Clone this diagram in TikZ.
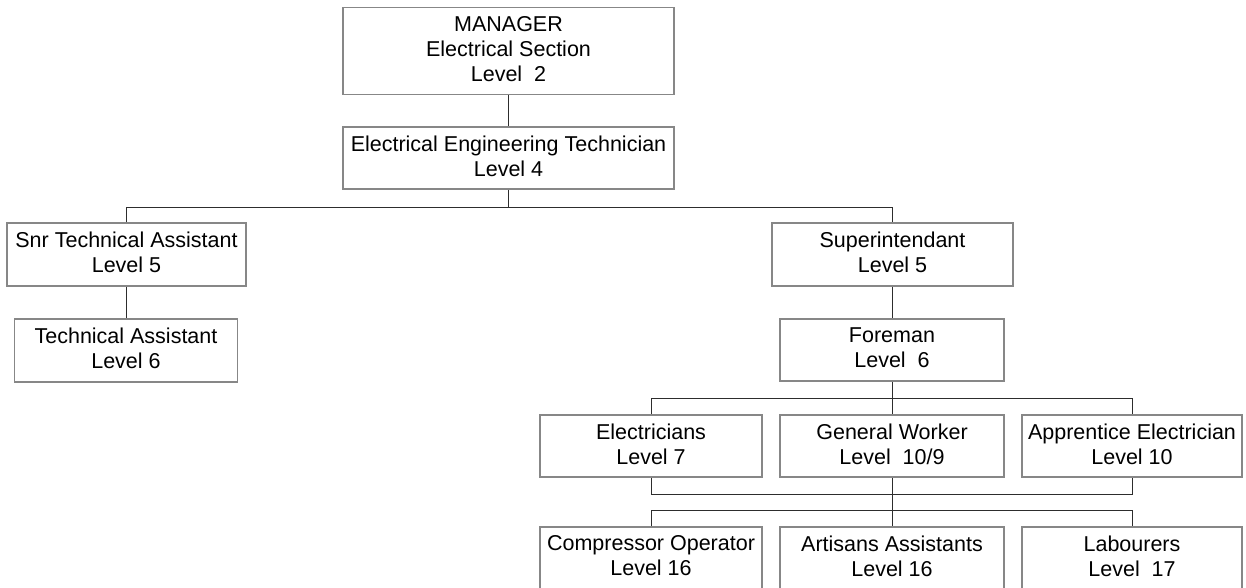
\documentclass[tikz,border=0pt]{standalone}
\usepackage{fontspec}
\setmainfont{Liberation Sans}
\definecolor{boxline}{RGB}{135,135,135}
\definecolor{wire}{RGB}{45,45,45}
\begin{document}
\begin{tikzpicture}[x=1pt,y=1pt,
  post/.style={draw=boxline, line width=1.5pt, fill=white, rectangle,
    inner sep=0pt, align=center, font=\fontsize{21.5}{25}\selectfont,
    execute at begin node={\rule{0pt}{15.5pt}},
    execute at end node={\rule[-4.5pt]{0pt}{4.5pt}}},
  wire/.style={draw=wire, line width=0.9pt}]
\useasboundingbox (0,0) rectangle (1246,-588);
\clip (0,0) rectangle (1246,-588);

% posts (centre, width, height)
\node[post, minimum width=331pt, minimum height=87pt] (mgr)  at (508.5,-51) {MANAGER\\Electrical Section\\Level~~2};
\node[post, minimum width=331pt, minimum height=62pt] (eet)  at (508.5,-158)  {Electrical Engineering Technician\\Level 4};
\node[post, minimum width=239pt, minimum height=63pt] (snr)  at (126.5,-254.5) {Snr Technical Assistant\\Level 5};
\node[post, minimum width=223pt, minimum height=63pt] (ta)   at (126,-350.5)  {Technical Assistant\\Level 6};
\node[post, minimum width=241pt, minimum height=63pt] (sup)  at (892.5,-254.5) {Superintendant\\Level 5};
\node[post, minimum width=224pt, minimum height=62pt] (fore) at (892,-350)    {Foreman\\Level~~6};
\node[post, minimum width=222pt, minimum height=62pt] (elec) at (651,-446)    {Electricians\\Level 7};
\node[post, minimum width=224pt, minimum height=62pt] (gw)   at (892,-446)    {General Worker\\Level~~10/9};
\node[post, minimum width=220pt, minimum height=62pt] (app)  at (1132,-446)   {Apprentice Electrician\\Level 10};
\node[post, minimum width=222pt, minimum height=62pt] (comp) at (651,-558)    {Compressor Operator\\Level 16};
\node[post, minimum width=224pt, minimum height=62pt] (art)  at (892,-558)    {Artisans Assistants\\Level 16};
\node[post, minimum width=220pt, minimum height=62pt] (lab)  at (1132,-558)   {Labourers\\Level~~17};

% bus levels
\coordinate (busA) at (0,-207);
\coordinate (busB) at (0,-398);
\coordinate (busC) at (0,-494);
\coordinate (busD) at (0,-510);

% connectors
\draw[wire] (mgr.south) -- (eet.north);
\draw[wire] (eet.south) -- (eet.south |- busA);
\draw[wire] (snr.north) -- (snr.north |- busA) -- (sup.north |- busA) -- (sup.north);
\draw[wire] (snr.south) -- (snr.south |- ta.north);
\draw[wire] (sup.south) -- (sup.south |- fore.north);

\draw[wire] (fore.south) -- (fore.south |- busB);
\draw[wire] (elec.north) -- (elec.north |- busB) -- (app.north |- busB) -- (app.north);
\draw[wire] (gw.north |- busB) -- (gw.north);

\draw[wire] (elec.south) -- (elec.south |- busC) -- (app.south |- busC) -- (app.south);
\draw[wire] (gw.south) -- (art.north);

\draw[wire] (comp.north) -- (comp.north |- busD) -- (lab.north |- busD) -- (lab.north);
\end{tikzpicture}
\end{document}
